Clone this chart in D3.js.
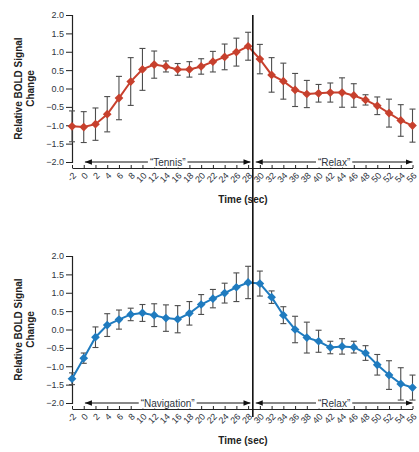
<!DOCTYPE html>
<html>
<head>
<meta charset="utf-8">
<script src="https://cdn.jsdelivr.net/npm/d3@7"></script>
<style>
  body { margin: 0; background: #fff; }
  svg { display: block; font-family: "Liberation Sans", Arial, sans-serif; }
</style>
</head>
<body>
<svg id="chart" width="419" height="452"></svg>
<script>
// time points (sec)
const times = d3.range(-2, 57, 2);
const xTicks = times;
const yTicks = [-2, -1.5, -1, -0.5, 0, 0.5, 1, 1.5, 2];

// tennis imagery block
const tennisMean = [-1.03, -1.05, -0.97, -0.70, -0.26, 0.19, 0.52, 0.65, 0.60, 0.52, 0.52, 0.60,
  0.73, 0.86, 0.99, 1.15, 0.80, 0.37, 0.20, -0.04, -0.15, -0.13, -0.11, -0.11, -0.19, -0.31,
  -0.47, -0.67, -0.87, -1.01];
const tennisErr = [0.42, 0.42, 0.44, 0.48, 0.59, 0.65, 0.57, 0.37, 0.15, 0.16, 0.21, 0.21,
  0.28, 0.35, 0.38, 0.38, 0.40, 0.47, 0.49, 0.45, 0.37, 0.24, 0.26, 0.40, 0.32, 0.14,
  0.24, 0.38, 0.43, 0.45];

// spatial navigation block
const navMean = [-1.34, -0.78, -0.21, 0.12, 0.27, 0.41, 0.45, 0.39, 0.31, 0.28, 0.44, 0.68,
  0.84, 0.99, 1.15, 1.28, 1.25, 0.88, 0.39, 0.00, -0.22, -0.32, -0.49, -0.46, -0.48, -0.64,
  -0.96, -1.24, -1.48, -1.58];
const navErr = [0.16, 0.14, 0.28, 0.31, 0.26, 0.17, 0.23, 0.31, 0.36, 0.37, 0.32, 0.27,
  0.25, 0.27, 0.39, 0.44, 0.34, 0.17, 0.23, 0.36, 0.42, 0.30, 0.17, 0.21, 0.16, 0.20,
  0.28, 0.39, 0.44, 0.34];

const switchTime = 28.8;

const panels = [
  { mean: tennisMean, err: tennisErr, color: '#c7402d', task: '\u201cTennis\u201d', top: 15 },
  { mean: navMean, err: navErr, color: '#1f7bbf', task: '\u201cNavigation\u201d', top: 256 }
];

const cfg = {
  left: 72,
  right: 412.5,
  plotH: 147,
  textColor: '#2e3440',
  errColor: '#4d4d4d'
};

const svg = d3.select('#chart');
const x = d3.scaleLinear().domain([-2, 56]).range([cfg.left, cfg.right]);

svg.append('defs').append('marker')
  .attr('id', 'arrow')
  .attr('viewBox', '0 0 10 10')
  .attr('refX', 10).attr('refY', 5)
  .attr('markerWidth', 7).attr('markerHeight', 7)
  .attr('markerUnits', 'userSpaceOnUse')
  .attr('orient', 'auto-start-reverse')
  .append('path')
  .attr('d', 'M0,1 L10,5 L0,9 Z')
  .attr('fill', '#111');

panels.forEach(p => {
  const y = d3.scaleLinear().domain([-2, 2]).range([p.top + cfg.plotH, p.top]);
  const g = svg.append('g');

  // y axis
  const ya = g.append('g')
    .attr('transform', `translate(${cfg.left},0)`)
    .call(d3.axisLeft(y).tickValues(yTicks).tickFormat(d3.format('.1f')).tickSize(6).tickPadding(2));
  ya.select('.domain').attr('stroke', '#222').attr('stroke-width', 1.2);
  ya.selectAll('.tick line').attr('stroke', '#222');
  ya.selectAll('text').attr('font-size', 9).attr('fill', cfg.textColor)
    .text(d => d3.format('.1f')(d).replace('-', '\u2212'));

  // x axis
  const xBase = y(-2) + 6;
  const xa = g.append('g')
    .attr('transform', `translate(0,${xBase})`)
    .call(d3.axisBottom(x).tickValues(xTicks).tickSize(0).tickFormat(d => d));
  xa.select('.domain').attr('stroke', '#222');
  xa.selectAll('.tick').append('line')
    .attr('y1', -3).attr('y2', 0).attr('stroke', '#222');
  xa.selectAll('text')
    .attr('font-size', 9)
    .attr('fill', cfg.textColor)
    .attr('text-anchor', 'end')
    .attr('x', 0).attr('y', 0)
    .attr('dy', '0.35em')
    .attr('transform', 'translate(2,6) rotate(-45)');

  g.append('text')
    .attr('x', 243).attr('y', xBase + 35)
    .attr('text-anchor', 'middle')
    .attr('font-size', 10).attr('font-weight', 'bold').attr('fill', '#222')
    .text('Time (sec)');

  // y title
  const ty = g.append('text')
    .attr('transform', `translate(22,${p.top + cfg.plotH / 2}) rotate(-90)`)
    .attr('text-anchor', 'middle')
    .attr('font-size', 10).attr('font-weight', 'bold').attr('fill', '#222');
  ty.append('tspan').attr('x', 0).attr('dy', 0).text('Relative BOLD Signal');
  ty.append('tspan').attr('x', 0).attr('dy', '1.2em').text('Change');

  // task / relax arrows
  const ay = y(-2);
  const spans = [
    { from: 0.2, to: switchTime - 0.4, label: p.task },
    { from: switchTime + 0.5, to: 56, label: '\u201cRelax\u201d' }
  ];
  spans.forEach(s => {
    g.append('line')
      .attr('x1', x(s.from)).attr('x2', x(s.to))
      .attr('y1', ay).attr('y2', ay)
      .attr('stroke', '#111').attr('stroke-width', 1)
      .attr('marker-start', 'url(#arrow)')
      .attr('marker-end', 'url(#arrow)');
    const cx = (x(s.from) + x(s.to)) / 2;
    const t = g.append('text')
      .attr('x', cx).attr('y', ay + 3.5)
      .attr('text-anchor', 'middle')
      .attr('font-size', 10).attr('fill', cfg.textColor)
      .text(s.label);
    const bb = t.node().getBBox();
    g.insert('rect', () => t.node())
      .attr('x', bb.x - 2).attr('y', bb.y)
      .attr('width', bb.width + 4).attr('height', bb.height)
      .attr('fill', '#fff');
  });

  // error bars
  const eb = g.append('g').selectAll('g')
    .data(times.map((t, i) => ({ t, m: p.mean[i], e: p.err[i] })))
    .join('g')
    .attr('stroke', cfg.errColor).attr('stroke-width', 1.1);
  eb.append('line')
    .attr('x1', d => x(d.t)).attr('x2', d => x(d.t))
    .attr('y1', d => y(d.m - d.e)).attr('y2', d => y(d.m + d.e));
  [-1, 1].forEach(sgn => {
    eb.append('line')
      .attr('x1', d => x(d.t) - 3).attr('x2', d => x(d.t) + 3)
      .attr('y1', d => y(d.m + sgn * d.e)).attr('y2', d => y(d.m + sgn * d.e));
  });

  // mean line and markers
  g.append('path')
    .datum(times.map((t, i) => [t, p.mean[i]]))
    .attr('fill', 'none')
    .attr('stroke', p.color)
    .attr('stroke-width', 2)
    .attr('d', d3.line().x(d => x(d[0])).y(d => y(d[1])));

  g.append('g').selectAll('path')
    .data(times.map((t, i) => [t, p.mean[i]]))
    .join('path')
    .attr('d', d3.symbol(d3.symbolSquare, 38)())
    .attr('transform', d => `translate(${x(d[0])},${y(d[1])}) rotate(45)`)
    .attr('fill', p.color);
});

// stimulus switch marker spanning both panels
svg.append('line')
  .attr('x1', x(switchTime)).attr('x2', x(switchTime))
  .attr('y1', 15).attr('y2', 417)
  .attr('stroke', '#111').attr('stroke-width', 1.6);
</script>
</body>
</html>
